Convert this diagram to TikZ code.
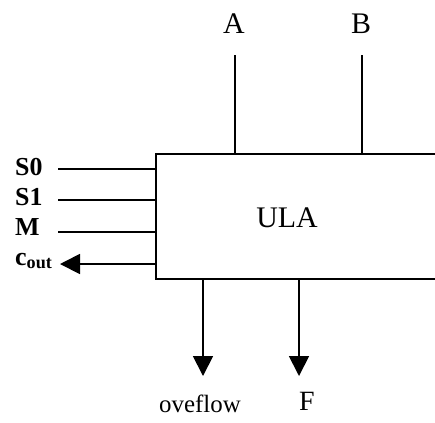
\documentclass[tikz,border=0pt]{standalone}
\usepackage{fontspec}
\setmainfont{Liberation Serif}
\usetikzlibrary{arrows.meta}
\begin{document}
\begin{tikzpicture}[x=1bp,y=-1bp,
  wire/.style={line width=1.8bp},
  outarrow/.style={wire,-{Triangle[length=20bp,width=20bp]}},
  small/.style={font=\fontsize{26}{28}\selectfont\bfseries,inner sep=0pt},
  big/.style={font=\fontsize{30}{32}\selectfont,inner sep=0pt},
  mid/.style={font=\fontsize{25}{27}\selectfont,inner sep=0pt}]
\useasboundingbox (0,0) rectangle (435,422);
\clip (0,0) rectangle (435,422);
\node[draw,line width=1.8bp,minimum width=300bp,minimum height=125bp,anchor=north west,inner sep=0pt] (box) at (155,153) {};
\node[big,anchor=base] (ula) at (287,227) {ULA};
% left labels
\node[small,anchor=base west] (s0) at (15,175) {S0};
\node[small,anchor=base west] (s1) at (15,205) {S1};
\node[small,anchor=base west] (m) at (15,235) {M};
\node[small,anchor=base west] (cout) at (15,265) {c\textsubscript{out}};
\coordinate (s0e) at (58,169);
\coordinate (s1e) at (58,200);
\coordinate (me) at (58,232);
\coordinate (coute) at (60,264);
\draw[wire] (s0e) -- (s0e -| box.west);
\draw[wire] (s1e) -- (s1e -| box.west);
\draw[wire] (me) -- (me -| box.west);
\draw[outarrow] (coute -| box.west) -- (coute);
% top
\node[big,anchor=base] (a) at (234,33) {A};
\node[big,anchor=base] (b) at (361,33) {B};
\coordinate (ae) at (235,55);
\coordinate (be) at (362,55);
\draw[wire] (ae) -- (ae |- box.north);
\draw[wire] (be) -- (be |- box.north);
% bottom
\coordinate (ovfe) at (203,376);
\coordinate (fe) at (299,376);
\draw[outarrow] (ovfe |- box.south) -- (ovfe);
\draw[outarrow] (fe |- box.south) -- (fe);
\node[mid,anchor=base] (ovf) at (200,412) {oveflow};
\node[font=\fontsize{28}{30}\selectfont,inner sep=0pt,anchor=base] (f) at (307,410) {F};
\end{tikzpicture}
\end{document}
